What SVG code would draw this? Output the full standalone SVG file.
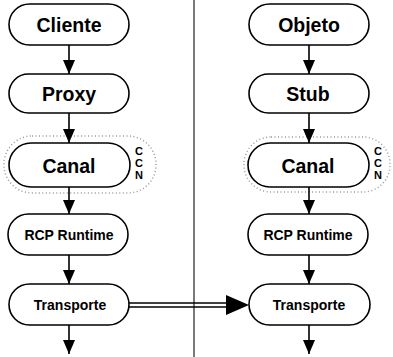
<svg xmlns="http://www.w3.org/2000/svg" width="393" height="357" viewBox="0 0 393 357">
<defs>
<style>
.box{fill:#fff;stroke:#000;stroke-width:1.6}
.lbl{font-family:"Liberation Sans",Arial,sans-serif;font-weight:bold;fill:#000;text-anchor:middle;dominant-baseline:central}
.big{font-size:19.5px}
.sm{font-size:14px}
.ccn{font-family:"Liberation Sans",Arial,sans-serif;font-weight:bold;font-size:11px;fill:#000;text-anchor:middle}
.ln{stroke:#000;stroke-width:1.6;fill:none}
.stip{fill:none;stroke:#999;stroke-width:1.5;stroke-dasharray:1 2.5}
</style>
<marker id="ah" viewBox="0 0 14 12" refX="14" refY="6" markerWidth="14" markerHeight="12" markerUnits="userSpaceOnUse" orient="auto">
<path d="M0,0 L14,6 L0,12 Z" fill="#000"/>
</marker>
</defs>
<rect width="393" height="357" fill="#fff"/>
<g id="stipple">
<rect class="stip" x="4" y="136" width="152" height="57" rx="28"/>
<rect class="stip" x="244" y="137" width="146" height="55" rx="27" stroke="#ccc"/>
</g>
<line id="divider" x1="194" y1="0" x2="194" y2="357" stroke="#333" stroke-width="1.3"/>
<g id="connectors">
<line class="ln" x1="69" y1="45" x2="69" y2="74" marker-end="url(#ah)"/>
<line class="ln" x1="69" y1="113" x2="69" y2="143" marker-end="url(#ah)"/>
<line class="ln" x1="69" y1="187" x2="69" y2="214" marker-end="url(#ah)"/>
<line class="ln" x1="69" y1="255" x2="69" y2="284" marker-end="url(#ah)"/>
<line class="ln" x1="69" y1="325" x2="69" y2="354" marker-end="url(#ah)"/>
<line class="ln" x1="309" y1="45" x2="309" y2="74" marker-end="url(#ah)"/>
<line class="ln" x1="309" y1="113" x2="309" y2="143" marker-end="url(#ah)"/>
<line class="ln" x1="309" y1="187" x2="309" y2="214" marker-end="url(#ah)"/>
<line class="ln" x1="309" y1="255" x2="309" y2="284" marker-end="url(#ah)"/>
<line class="ln" x1="309" y1="325" x2="309" y2="354" marker-end="url(#ah)"/>
<line x1="129" y1="303" x2="228" y2="303" stroke="#000" stroke-width="1.3"/>
<line x1="129" y1="307" x2="228" y2="307" stroke="#000" stroke-width="1.3"/>
<path d="M226,295 L249,305 L226,315 Z" fill="#000"/>
</g>
<g id="cliente"><rect class="box" x="9" y="4" width="120" height="41" rx="20.5"/><text class="lbl big" x="69" y="25">Cliente</text></g>
<g id="proxy"><rect class="box" x="9" y="74" width="120" height="39" rx="19.5"/><text class="lbl big" x="69" y="94">Proxy</text></g>
<g id="canal-l"><rect class="box" x="9" y="143" width="121" height="44" rx="22"/><text class="lbl big" x="69" y="166">Canal</text>
<text class="ccn" x="139" y="155">C</text><text class="ccn" x="139" y="167">C</text><text class="ccn" x="139" y="179">N</text></g>
<g id="rcp-l"><rect class="box" x="8" y="214" width="120" height="41" rx="20.5"/><text class="lbl sm" x="69" y="235">RCP Runtime</text></g>
<g id="transporte-l"><rect class="box" x="9" y="284" width="120" height="41" rx="20.5"/><text class="lbl sm" x="70" y="305">Transporte</text></g>
<g id="objeto"><rect class="box" x="249" y="4" width="120" height="41" rx="20.5"/><text class="lbl big" x="309" y="25">Objeto</text></g>
<g id="stub"><rect class="box" x="249" y="74" width="120" height="39" rx="19.5"/><text class="lbl big" x="308" y="94">Stub</text></g>
<g id="canal-r"><rect class="box" x="248" y="143" width="121" height="44" rx="22"/><text class="lbl big" x="308" y="166">Canal</text>
<text class="ccn" x="378" y="155">C</text><text class="ccn" x="378" y="167">C</text><text class="ccn" x="378" y="179">N</text></g>
<g id="rcp-r"><rect class="box" x="248" y="214" width="120" height="41" rx="20.5"/><text class="lbl sm" x="308" y="235">RCP Runtime</text></g>
<g id="transporte-r"><rect class="box" x="249" y="284" width="121" height="41" rx="20.5"/><text class="lbl sm" x="309" y="305">Transporte</text></g>
</svg>
